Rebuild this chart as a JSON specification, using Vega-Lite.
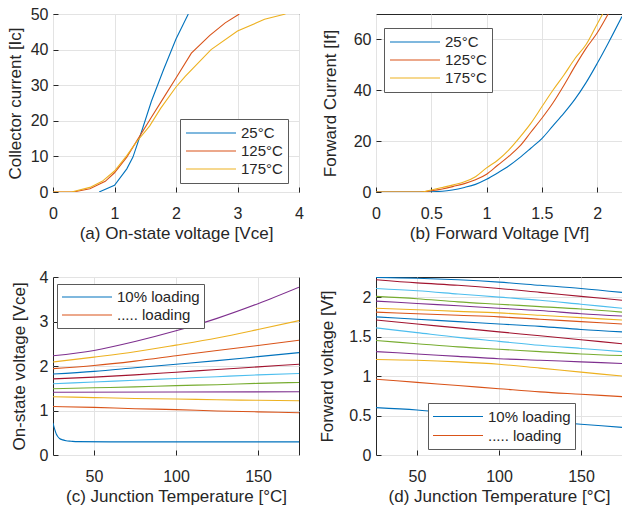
{
  "$schema": "https://vega.github.io/schema/vega-lite/v6.json",
  "background": "white",
  "padding": {"left": 5, "top": 5, "right": 0, "bottom": 5},
  "config": {
    "font": "Liberation Sans",
    "view": {"stroke": "#262626", "strokeWidth": 1},
    "axis": {"grid": true, "gridColor": "#e3e3e3", "domain": false, "ticks": true, "tickColor": "#262626", "tickSize": -5, "labelColor": "#262626", "labelFontSize": 16, "titleFontSize": 17, "titleFontWeight": "normal", "titleColor": "#262626", "labelFont": "Liberation Sans", "titleFont": "Liberation Sans", "labelFlush": false, "labelOverlap": false},
    "axisX": {"labelPadding": 18, "titlePadding": 4},
    "axisY": {"labelPadding": 10},
    "legend": {"orient": "none", "fillColor": "white", "strokeColor": "#5a5a5a", "padding": 5, "symbolType": "stroke", "symbolSize": 2500, "symbolStrokeWidth": 1.1, "labelFontSize": 15, "labelColor": "#262626", "labelFont": "Liberation Sans", "labelOffset": 4, "clipHeight": 18, "rowPadding": 0},
    "line": {"strokeWidth": 1.1}
  },
  "datasets": {
    "a": [
      {"s": "25°C", "x": 0.75, "y": 0}, {"s": "25°C", "x": 1.0, "y": 1.9}, {"s": "25°C", "x": 1.2, "y": 6.5}, {"s": "25°C", "x": 1.3, "y": 9.8}, {"s": "25°C", "x": 1.45, "y": 17.5}, {"s": "25°C", "x": 1.6, "y": 25.5}, {"s": "25°C", "x": 1.8, "y": 34.5}, {"s": "25°C", "x": 2.0, "y": 43}, {"s": "25°C", "x": 2.2, "y": 50},
      {"s": "125°C", "x": 0, "y": 0}, {"s": "125°C", "x": 0.33, "y": 0}, {"s": "125°C", "x": 0.6, "y": 0.9}, {"s": "125°C", "x": 0.85, "y": 3}, {"s": "125°C", "x": 1.0, "y": 5.4}, {"s": "125°C", "x": 1.2, "y": 9.8}, {"s": "125°C", "x": 1.35, "y": 14}, {"s": "125°C", "x": 1.6, "y": 21}, {"s": "125°C", "x": 1.8, "y": 26.5}, {"s": "125°C", "x": 2.0, "y": 32}, {"s": "125°C", "x": 2.25, "y": 39}, {"s": "125°C", "x": 2.55, "y": 44}, {"s": "125°C", "x": 2.8, "y": 47.5}, {"s": "125°C", "x": 3.03, "y": 50},
      {"s": "175°C", "x": 0, "y": 0}, {"s": "175°C", "x": 0.3, "y": 0}, {"s": "175°C", "x": 0.6, "y": 1.3}, {"s": "175°C", "x": 0.8, "y": 3}, {"s": "175°C", "x": 1.0, "y": 5.9}, {"s": "175°C", "x": 1.2, "y": 10.2}, {"s": "175°C", "x": 1.35, "y": 13.9}, {"s": "175°C", "x": 1.57, "y": 18.5}, {"s": "175°C", "x": 1.75, "y": 23.5}, {"s": "175°C", "x": 2.0, "y": 29.5}, {"s": "175°C", "x": 2.15, "y": 32.5}, {"s": "175°C", "x": 2.57, "y": 40}, {"s": "175°C", "x": 3.0, "y": 45.2}, {"s": "175°C", "x": 3.44, "y": 48.5}, {"s": "175°C", "x": 3.78, "y": 50}
    ],
    "b": [
      {"s": "25°C", "x": 0, "y": 0}, {"s": "25°C", "x": 0.4, "y": 0}, {"s": "25°C", "x": 0.6, "y": 0.3}, {"s": "25°C", "x": 0.8, "y": 1.8}, {"s": "25°C", "x": 0.9, "y": 3}, {"s": "25°C", "x": 1.0, "y": 5}, {"s": "25°C", "x": 1.1, "y": 7.5}, {"s": "25°C", "x": 1.2, "y": 10.2}, {"s": "25°C", "x": 1.3, "y": 13.5}, {"s": "25°C", "x": 1.4, "y": 17.2}, {"s": "25°C", "x": 1.5, "y": 21}, {"s": "25°C", "x": 1.6, "y": 26}, {"s": "25°C", "x": 1.7, "y": 31}, {"s": "25°C", "x": 1.8, "y": 36.5}, {"s": "25°C", "x": 1.9, "y": 43}, {"s": "25°C", "x": 2.0, "y": 50.5}, {"s": "25°C", "x": 2.1, "y": 58.5}, {"s": "25°C", "x": 2.225, "y": 69},
      {"s": "125°C", "x": 0, "y": 0}, {"s": "125°C", "x": 0.4, "y": 0}, {"s": "125°C", "x": 0.5, "y": 0.5}, {"s": "125°C", "x": 0.6, "y": 1.2}, {"s": "125°C", "x": 0.7, "y": 2.2}, {"s": "125°C", "x": 0.8, "y": 3.3}, {"s": "125°C", "x": 0.9, "y": 4.8}, {"s": "125°C", "x": 1.0, "y": 7}, {"s": "125°C", "x": 1.1, "y": 10.5}, {"s": "125°C", "x": 1.2, "y": 14}, {"s": "125°C", "x": 1.3, "y": 18}, {"s": "125°C", "x": 1.4, "y": 23.5}, {"s": "125°C", "x": 1.5, "y": 29}, {"s": "125°C", "x": 1.6, "y": 35}, {"s": "125°C", "x": 1.7, "y": 42}, {"s": "125°C", "x": 1.8, "y": 49.5}, {"s": "125°C", "x": 1.9, "y": 56.5}, {"s": "125°C", "x": 2.0, "y": 62.5}, {"s": "125°C", "x": 2.1, "y": 70},
      {"s": "175°C", "x": 0, "y": 0}, {"s": "175°C", "x": 0.4, "y": 0}, {"s": "175°C", "x": 0.5, "y": 0.8}, {"s": "175°C", "x": 0.6, "y": 1.8}, {"s": "175°C", "x": 0.7, "y": 2.8}, {"s": "175°C", "x": 0.8, "y": 4}, {"s": "175°C", "x": 0.9, "y": 6}, {"s": "175°C", "x": 1.0, "y": 9.5}, {"s": "175°C", "x": 1.1, "y": 12.5}, {"s": "175°C", "x": 1.2, "y": 16.5}, {"s": "175°C", "x": 1.3, "y": 21.5}, {"s": "175°C", "x": 1.4, "y": 27}, {"s": "175°C", "x": 1.5, "y": 33.5}, {"s": "175°C", "x": 1.6, "y": 40}, {"s": "175°C", "x": 1.7, "y": 46}, {"s": "175°C", "x": 1.8, "y": 52.5}, {"s": "175°C", "x": 1.9, "y": 58}, {"s": "175°C", "x": 2.0, "y": 66}, {"s": "175°C", "x": 2.05, "y": 70}
    ],
    "c": [
      {"s": "10% loading", "x": 25, "y": 0.72}, {"s": "10% loading", "x": 26, "y": 0.58}, {"s": "10% loading", "x": 27, "y": 0.47}, {"s": "10% loading", "x": 28, "y": 0.41}, {"s": "10% loading", "x": 29, "y": 0.37}, {"s": "10% loading", "x": 31, "y": 0.34}, {"s": "10% loading", "x": 33, "y": 0.32}, {"s": "10% loading", "x": 36, "y": 0.31}, {"s": "10% loading", "x": 40, "y": 0.3}, {"s": "10% loading", "x": 60, "y": 0.295}, {"s": "10% loading", "x": 100, "y": 0.295}, {"s": "10% loading", "x": 175, "y": 0.295},
      {"s": "..... loading", "x": 25, "y": 1.09}, {"s": "..... loading", "x": 50, "y": 1.07}, {"s": "..... loading", "x": 75, "y": 1.04}, {"s": "..... loading", "x": 100, "y": 1.02}, {"s": "..... loading", "x": 125, "y": 0.99}, {"s": "..... loading", "x": 150, "y": 0.97}, {"s": "..... loading", "x": 175, "y": 0.95},
      {"s": "30%", "x": 25, "y": 1.31}, {"s": "30%", "x": 50, "y": 1.29}, {"s": "30%", "x": 75, "y": 1.27}, {"s": "30%", "x": 100, "y": 1.26}, {"s": "30%", "x": 125, "y": 1.24}, {"s": "30%", "x": 150, "y": 1.23}, {"s": "30%", "x": 175, "y": 1.22},
      {"s": "40%", "x": 25, "y": 1.41}, {"s": "40%", "x": 100, "y": 1.415}, {"s": "40%", "x": 175, "y": 1.42},
      {"s": "50%", "x": 25, "y": 1.49}, {"s": "50%", "x": 50, "y": 1.51}, {"s": "50%", "x": 75, "y": 1.53}, {"s": "50%", "x": 100, "y": 1.56}, {"s": "50%", "x": 125, "y": 1.58}, {"s": "50%", "x": 150, "y": 1.61}, {"s": "50%", "x": 175, "y": 1.63},
      {"s": "60%", "x": 25, "y": 1.6}, {"s": "60%", "x": 50, "y": 1.64}, {"s": "60%", "x": 75, "y": 1.68}, {"s": "60%", "x": 100, "y": 1.72}, {"s": "60%", "x": 125, "y": 1.76}, {"s": "60%", "x": 150, "y": 1.8}, {"s": "60%", "x": 175, "y": 1.83},
      {"s": "70%", "x": 25, "y": 1.71}, {"s": "70%", "x": 50, "y": 1.75}, {"s": "70%", "x": 75, "y": 1.8}, {"s": "70%", "x": 100, "y": 1.86}, {"s": "70%", "x": 125, "y": 1.92}, {"s": "70%", "x": 150, "y": 1.98}, {"s": "70%", "x": 175, "y": 2.04},
      {"s": "80%", "x": 25, "y": 1.82}, {"s": "80%", "x": 50, "y": 1.88}, {"s": "80%", "x": 75, "y": 1.96}, {"s": "80%", "x": 100, "y": 2.04}, {"s": "80%", "x": 125, "y": 2.12}, {"s": "80%", "x": 150, "y": 2.21}, {"s": "80%", "x": 175, "y": 2.3},
      {"s": "90%", "x": 25, "y": 1.94}, {"s": "90%", "x": 50, "y": 2.01}, {"s": "90%", "x": 75, "y": 2.11}, {"s": "90%", "x": 100, "y": 2.23}, {"s": "90%", "x": 125, "y": 2.35}, {"s": "90%", "x": 150, "y": 2.46}, {"s": "90%", "x": 175, "y": 2.58},
      {"s": "100%", "x": 25, "y": 2.09}, {"s": "100%", "x": 50, "y": 2.2}, {"s": "100%", "x": 75, "y": 2.32}, {"s": "100%", "x": 100, "y": 2.47}, {"s": "100%", "x": 125, "y": 2.63}, {"s": "100%", "x": 150, "y": 2.82}, {"s": "100%", "x": 175, "y": 3.02},
      {"s": "110%", "x": 25, "y": 2.23}, {"s": "110%", "x": 50, "y": 2.35}, {"s": "110%", "x": 75, "y": 2.55}, {"s": "110%", "x": 100, "y": 2.79}, {"s": "110%", "x": 125, "y": 3.07}, {"s": "110%", "x": 150, "y": 3.4}, {"s": "110%", "x": 175, "y": 3.77}
    ],
    "d": [
      {"s": "10% loading", "x": 25, "y": 0.6}, {"s": "10% loading", "x": 50, "y": 0.57}, {"s": "10% loading", "x": 75, "y": 0.52}, {"s": "10% loading", "x": 100, "y": 0.47}, {"s": "10% loading", "x": 125, "y": 0.43}, {"s": "10% loading", "x": 150, "y": 0.39}, {"s": "10% loading", "x": 175, "y": 0.35},
      {"s": "..... loading", "x": 25, "y": 0.96}, {"s": "..... loading", "x": 50, "y": 0.92}, {"s": "..... loading", "x": 75, "y": 0.88}, {"s": "..... loading", "x": 100, "y": 0.84}, {"s": "..... loading", "x": 125, "y": 0.8}, {"s": "..... loading", "x": 150, "y": 0.77}, {"s": "..... loading", "x": 175, "y": 0.74},
      {"s": "L3", "x": 25, "y": 1.21}, {"s": "L3", "x": 50, "y": 1.2}, {"s": "L3", "x": 75, "y": 1.18}, {"s": "L3", "x": 100, "y": 1.15}, {"s": "L3", "x": 125, "y": 1.1}, {"s": "L3", "x": 150, "y": 1.05}, {"s": "L3", "x": 175, "y": 1.0},
      {"s": "L4", "x": 25, "y": 1.31}, {"s": "L4", "x": 50, "y": 1.28}, {"s": "L4", "x": 75, "y": 1.25}, {"s": "L4", "x": 100, "y": 1.22}, {"s": "L4", "x": 125, "y": 1.2}, {"s": "L4", "x": 150, "y": 1.18}, {"s": "L4", "x": 175, "y": 1.16},
      {"s": "L5", "x": 25, "y": 1.45}, {"s": "L5", "x": 50, "y": 1.41}, {"s": "L5", "x": 75, "y": 1.37}, {"s": "L5", "x": 100, "y": 1.34}, {"s": "L5", "x": 125, "y": 1.31}, {"s": "L5", "x": 150, "y": 1.28}, {"s": "L5", "x": 175, "y": 1.26},
      {"s": "L6", "x": 25, "y": 1.61}, {"s": "L6", "x": 50, "y": 1.55}, {"s": "L6", "x": 75, "y": 1.49}, {"s": "L6", "x": 100, "y": 1.44}, {"s": "L6", "x": 125, "y": 1.39}, {"s": "L6", "x": 150, "y": 1.35}, {"s": "L6", "x": 175, "y": 1.31},
      {"s": "L7", "x": 25, "y": 1.71}, {"s": "L7", "x": 50, "y": 1.66}, {"s": "L7", "x": 75, "y": 1.61}, {"s": "L7", "x": 100, "y": 1.56}, {"s": "L7", "x": 125, "y": 1.51}, {"s": "L7", "x": 150, "y": 1.46}, {"s": "L7", "x": 175, "y": 1.41},
      {"s": "L8", "x": 25, "y": 1.75}, {"s": "L8", "x": 50, "y": 1.72}, {"s": "L8", "x": 75, "y": 1.69}, {"s": "L8", "x": 100, "y": 1.66}, {"s": "L8", "x": 125, "y": 1.63}, {"s": "L8", "x": 150, "y": 1.59}, {"s": "L8", "x": 175, "y": 1.56},
      {"s": "L9", "x": 25, "y": 1.81}, {"s": "L9", "x": 50, "y": 1.79}, {"s": "L9", "x": 75, "y": 1.77}, {"s": "L9", "x": 100, "y": 1.75}, {"s": "L9", "x": 125, "y": 1.72}, {"s": "L9", "x": 150, "y": 1.69}, {"s": "L9", "x": 175, "y": 1.66},
      {"s": "L10", "x": 25, "y": 1.86}, {"s": "L10", "x": 50, "y": 1.84}, {"s": "L10", "x": 75, "y": 1.82}, {"s": "L10", "x": 100, "y": 1.8}, {"s": "L10", "x": 125, "y": 1.77}, {"s": "L10", "x": 150, "y": 1.74}, {"s": "L10", "x": 175, "y": 1.71},
      {"s": "L11", "x": 25, "y": 1.95}, {"s": "L11", "x": 50, "y": 1.92}, {"s": "L11", "x": 75, "y": 1.89}, {"s": "L11", "x": 100, "y": 1.86}, {"s": "L11", "x": 125, "y": 1.83}, {"s": "L11", "x": 150, "y": 1.79}, {"s": "L11", "x": 175, "y": 1.76},
      {"s": "L12", "x": 25, "y": 2.01}, {"s": "L12", "x": 50, "y": 1.98}, {"s": "L12", "x": 75, "y": 1.94}, {"s": "L12", "x": 100, "y": 1.91}, {"s": "L12", "x": 125, "y": 1.88}, {"s": "L12", "x": 150, "y": 1.85}, {"s": "L12", "x": 175, "y": 1.81},
      {"s": "L13", "x": 25, "y": 2.11}, {"s": "L13", "x": 50, "y": 2.08}, {"s": "L13", "x": 75, "y": 2.04}, {"s": "L13", "x": 100, "y": 2.0}, {"s": "L13", "x": 125, "y": 1.96}, {"s": "L13", "x": 150, "y": 1.91}, {"s": "L13", "x": 175, "y": 1.86},
      {"s": "L14", "x": 25, "y": 2.22}, {"s": "L14", "x": 50, "y": 2.18}, {"s": "L14", "x": 75, "y": 2.15}, {"s": "L14", "x": 100, "y": 2.11}, {"s": "L14", "x": 125, "y": 2.06}, {"s": "L14", "x": 150, "y": 2.01}, {"s": "L14", "x": 175, "y": 1.96},
      {"s": "L15", "x": 25, "y": 2.25}, {"s": "L15", "x": 50, "y": 2.24}, {"s": "L15", "x": 75, "y": 2.22}, {"s": "L15", "x": 100, "y": 2.19}, {"s": "L15", "x": 125, "y": 2.15}, {"s": "L15", "x": 150, "y": 2.11}, {"s": "L15", "x": 175, "y": 2.06}
    ]
  },
  "columns": 2,
  "spacing": {"row": 85, "column": 77},
  "bounds": "flush",
  "resolve": {"scale": {"color": "independent"}, "legend": {"color": "independent"}},
  "concat": [
    {
      "width": 246, "height": 178,
      "data": {"name": "a"},
      "mark": {"type": "line", "clip": true},
      "encoding": {
        "x": {"field": "x", "type": "quantitative", "scale": {"domain": [0, 4], "nice": false, "zero": false}, "axis": {"values": [0, 1, 2, 3, 4], "title": "(a) On-state voltage [Vce]"}},
        "y": {"field": "y", "type": "quantitative", "scale": {"domain": [0, 50], "nice": false}, "axis": {"values": [0, 10, 20, 30, 40, 50], "title": "Collector current [Ic]", "titlePadding": 6}},
        "color": {"field": "s", "type": "nominal", "scale": {"domain": ["25°C", "125°C", "175°C"], "range": ["#0072BD", "#D95319", "#EDB120"]}, "legend": {"title": null, "legendX": 127, "legendY": 105}}
      }
    },
    {
      "width": 246, "height": 178,
      "data": {"name": "b"},
      "mark": {"type": "line", "clip": true, "interpolate": "monotone"},
      "encoding": {
        "x": {"field": "x", "type": "quantitative", "scale": {"domain": [0, 2.225], "nice": false, "zero": false}, "axis": {"values": [0, 0.5, 1, 1.5, 2], "format": "~g", "title": "(b) Forward Voltage [Vf]"}},
        "y": {"field": "y", "type": "quantitative", "scale": {"domain": [0, 70], "nice": false}, "axis": {"values": [0, 20, 40, 60], "title": "Forward Current [If]", "titlePadding": 14}},
        "color": {"field": "s", "type": "nominal", "scale": {"domain": ["25°C", "125°C", "175°C"], "range": ["#0072BD", "#D95319", "#EDB120"]}, "legend": {"title": null, "legendX": 8, "legendY": 14}}
      }
    },
    {
      "width": 246, "height": 178,
      "data": {"name": "c"},
      "mark": {"type": "line", "clip": true, "interpolate": "monotone"},
      "encoding": {
        "x": {"field": "x", "type": "quantitative", "scale": {"domain": [25, 175], "nice": false, "zero": false}, "axis": {"values": [50, 100, 150], "title": "(c) Junction Temperature [°C]"}},
        "y": {"field": "y", "type": "quantitative", "scale": {"domain": [0, 4], "nice": false}, "axis": {"values": [0, 1, 2, 3, 4], "title": "On-state voltage [Vce]", "titlePadding": 11}},
        "color": {"field": "s", "type": "nominal", "scale": {"domain": ["10% loading", "..... loading", "30%", "40%", "50%", "60%", "70%", "80%", "90%", "100%", "110%"], "range": ["#0072BD", "#D95319", "#EDB120", "#7E2F8E", "#77AC30", "#4DBEEE", "#A2142F", "#0072BD", "#D95319", "#EDB120", "#7E2F8E"]}, "legend": {"title": null, "values": ["10% loading", "..... loading"], "legendX": 4, "legendY": 7, "padding": 4}}
      }
    },
    {
      "width": 246, "height": 178,
      "data": {"name": "d"},
      "mark": {"type": "line", "clip": true, "interpolate": "monotone"},
      "encoding": {
        "x": {"field": "x", "type": "quantitative", "scale": {"domain": [25, 175], "nice": false, "zero": false}, "axis": {"values": [50, 100, 150], "title": "(d) Junction Temperature [°C]"}},
        "y": {"field": "y", "type": "quantitative", "scale": {"domain": [0, 2.255], "nice": false}, "axis": {"values": [0, 0.5, 1, 1.5, 2], "format": "~g", "title": "Forward voltage [Vf]", "titlePadding": 12}},
        "color": {"field": "s", "type": "nominal", "scale": {"domain": ["10% loading", "..... loading", "L3", "L4", "L5", "L6", "L7", "L8", "L9", "L10", "L11", "L12", "L13", "L14", "L15"], "range": ["#0072BD", "#D95319", "#EDB120", "#7E2F8E", "#77AC30", "#4DBEEE", "#A2142F", "#0072BD", "#D95319", "#EDB120", "#7E2F8E", "#77AC30", "#4DBEEE", "#A2142F", "#0072BD"]}, "legend": {"title": null, "values": ["10% loading", "..... loading"], "legendX": 52, "legendY": 126, "padding": 4, "clipHeight": 19}}
      }
    }
  ]
}
